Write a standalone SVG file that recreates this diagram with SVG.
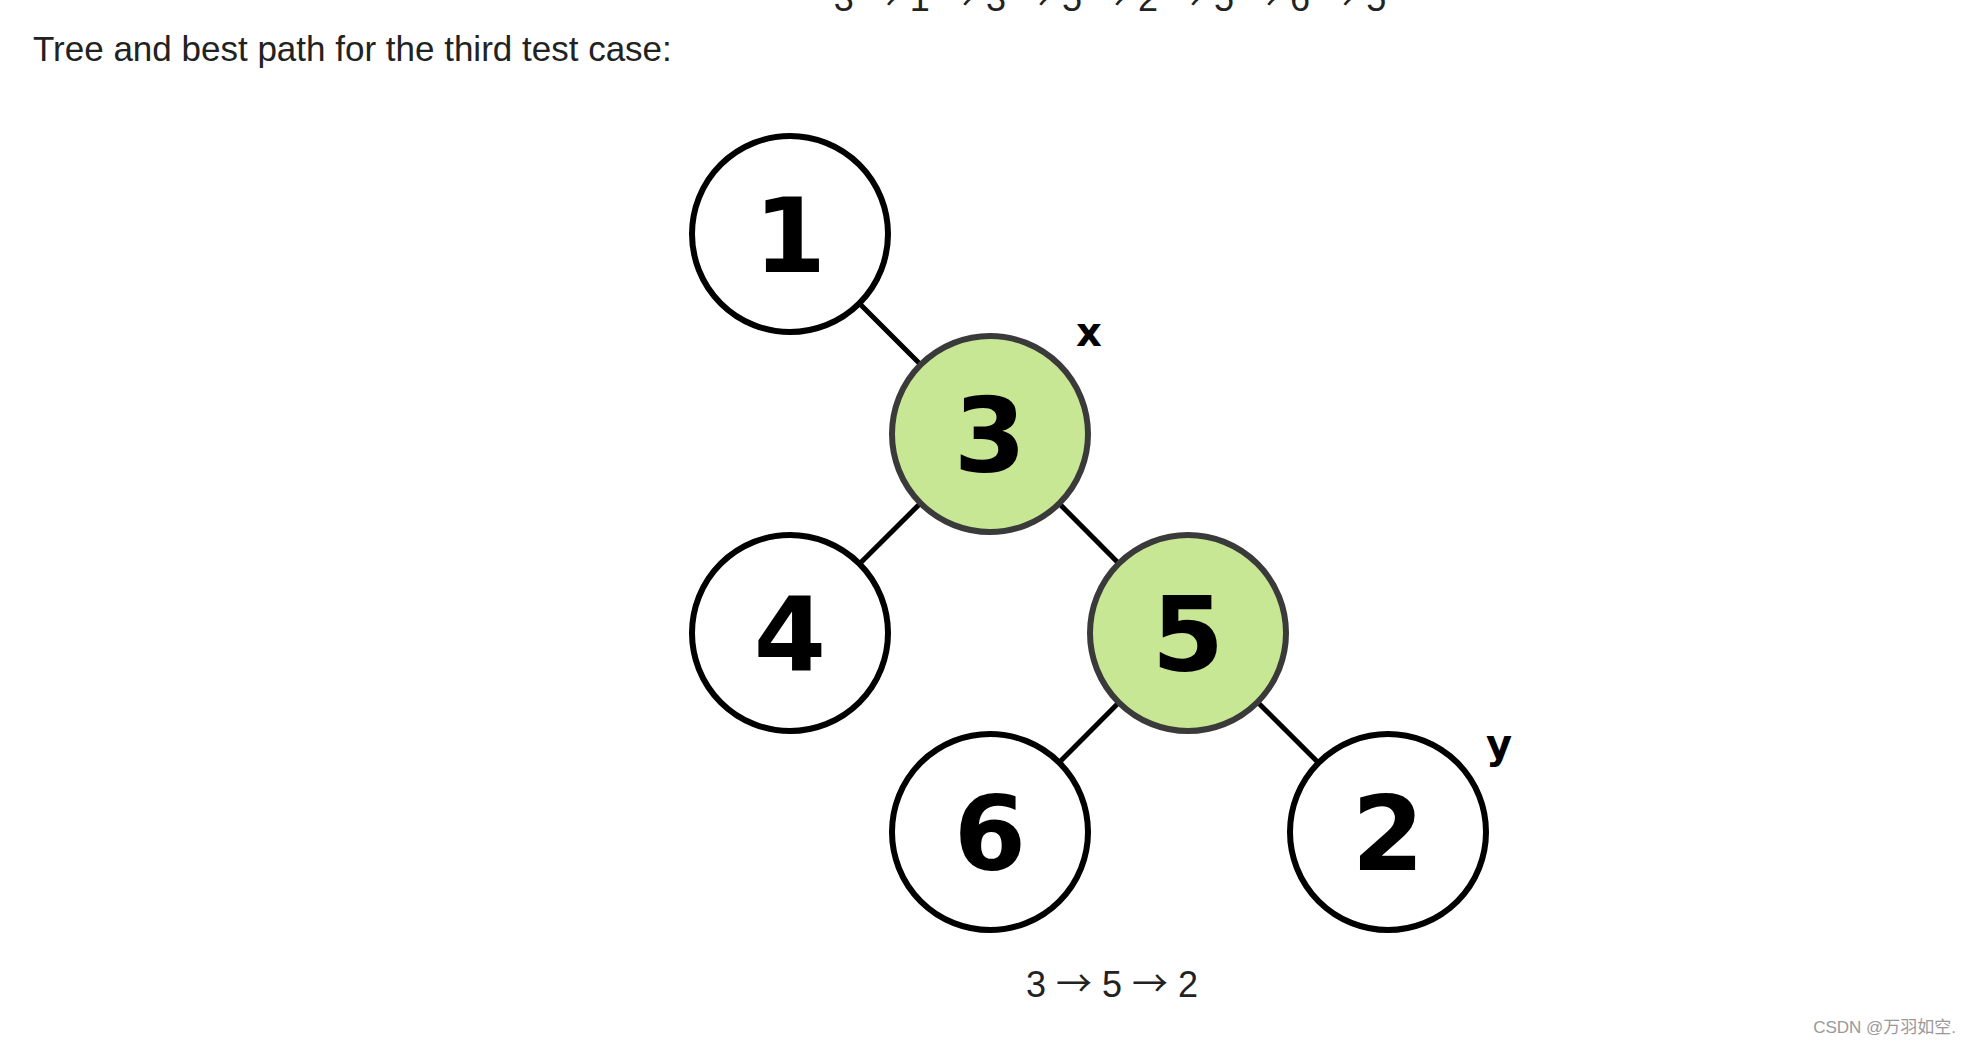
<svg xmlns="http://www.w3.org/2000/svg" width="1970" height="1046" viewBox="0 0 1970 1046">
<style>
.txt{font-family:"Liberation Sans",Arial,sans-serif;font-size:35px;fill:#222}
.path{font-size:36px}
.ar{font-family:"Noto Sans CJK SC","DejaVu Sans",sans-serif}
.node{stroke:#000;stroke-width:6;fill:#fff}
.hl{fill:#c8e794;stroke:#3a3a3a}
.num{font-family:"DejaVu Sans",Verdana,sans-serif;font-weight:bold;font-size:104px;fill:#000;text-anchor:middle}
.lbl{font-family:"DejaVu Sans",Verdana,sans-serif;font-weight:bold;font-size:40px;fill:#000;text-anchor:middle}
.edge{stroke:#000;stroke-width:5}
</style>
<rect width="1970" height="1046" fill="#fff"/>
<text class="txt path" x="1110" y="11" text-anchor="middle">3 <tspan class="ar">→</tspan> 1 <tspan class="ar">→</tspan> 3 <tspan class="ar">→</tspan> 5 <tspan class="ar">→</tspan> 2 <tspan class="ar">→</tspan> 5 <tspan class="ar">→</tspan> 6 <tspan class="ar">→</tspan> 5</text>
<text class="txt" x="33" y="61">Tree and best path for the third test case:</text>
<g id="connectors">
<line class="edge" x1="790" y1="234" x2="990" y2="434"/>
<line class="edge" x1="990" y1="434" x2="790" y2="633"/>
<line class="edge" x1="990" y1="434" x2="1188" y2="633"/>
<line class="edge" x1="1188" y1="633" x2="990" y2="832"/>
<line class="edge" x1="1188" y1="633" x2="1388" y2="832"/>
</g>
<g id="node1"><circle class="node" cx="790" cy="234" r="98"/><text class="num" x="790" y="272">1</text></g>
<g id="node3"><circle class="node hl" cx="990" cy="434" r="98"/><text class="num" x="990" y="472">3</text></g>
<g id="node4"><circle class="node" cx="790" cy="633" r="98"/><text class="num" x="790" y="671">4</text></g>
<g id="node5"><circle class="node hl" cx="1188" cy="633" r="98"/><text class="num" x="1188" y="671">5</text></g>
<g id="node6"><circle class="node" cx="990" cy="832" r="98"/><text class="num" x="990" y="870">6</text></g>
<g id="node2"><circle class="node" cx="1388" cy="832" r="98"/><text class="num" x="1388" y="870">2</text></g>
<text class="lbl" x="1089" y="346">x</text>
<text class="lbl" x="1499" y="758">y</text>
<text class="txt path" x="1112" y="997" text-anchor="middle">3 <tspan class="ar">→</tspan> 5 <tspan class="ar">→</tspan> 2</text>
<text x="1956" y="1033" text-anchor="end" style="font-family:'Liberation Sans','Noto Sans CJK SC',sans-serif;font-size:17px;fill:#999">CSDN @万羽如空.</text>
</svg>
